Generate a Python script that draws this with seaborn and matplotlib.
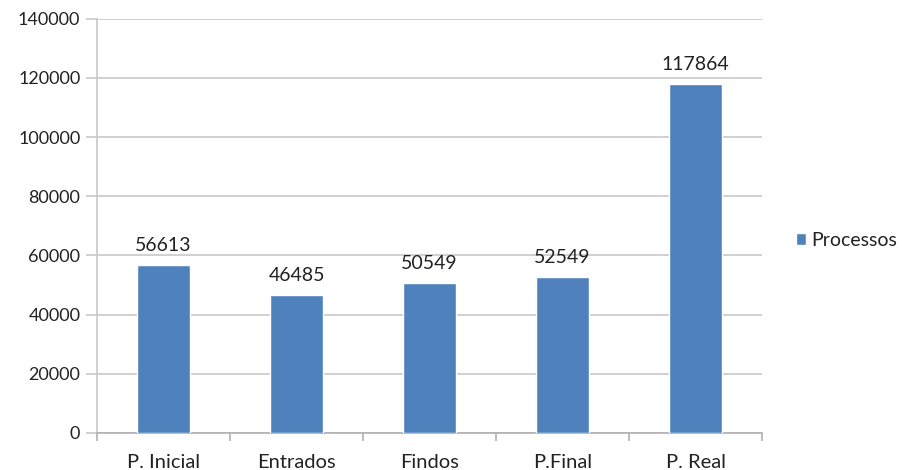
import matplotlib.pyplot as plt
import matplotlib.ticker as mticker
import pandas as pd
import seaborn as sns

# chart data
categories = ['P. Inicial', 'Entrados', 'Findos', 'P.Final', 'P. Real']
processos = [56613, 46485, 50549, 52549, 117864]
y_ticks = [0, 20000, 40000, 60000, 80000, 100000, 120000, 140000]

df = pd.DataFrame({'Categoria': categories, 'Valor': processos, 'Serie': 'Processos'})

sns.set_style('white')
plt.rcParams['font.family'] = ['Lato', 'DejaVu Sans']

fig = plt.figure(figsize=(9.02, 4.70), dpi=100)
ax = fig.add_axes([0.1075, 0.079, 0.7375, 0.881])

sns.barplot(data=df, x='Categoria', y='Valor', hue='Serie', palette=['#4f81bd'],
            width=0.4, saturation=1, ax=ax, zorder=3)

# value labels above the bars
for container in ax.containers:
    ax.bar_label(container, fmt='%d', padding=8, fontsize=14, color='#222222')

ax.set_xlim(-0.5, len(categories) - 0.5)
ax.set_ylim(0, 140000)
ax.set_yticks(y_ticks)
ax.yaxis.set_major_formatter(mticker.FuncFormatter(lambda v, p: f'{int(v)}'))
ax.grid(axis='y', color='#c8c8c8', linewidth=1.2, zorder=0)
ax.set_xlabel('')
ax.set_ylabel('')

# tick marks at the category boundaries
ax.set_xticks([i + 0.5 for i in range(-1, len(categories))], minor=True)
ax.tick_params(axis='x', which='major', length=0, pad=15, labelsize=14.5, labelcolor='#222222')
ax.tick_params(axis='x', which='minor', length=6, color='#b0b0b0', width=1.2, direction='out', bottom=True)
ax.tick_params(axis='y', length=8, color='#c8c8c8', width=1.2, direction='out', left=True,
               pad=4, labelsize=13, labelcolor='#222222')

for side in ['top', 'right']:
    ax.spines[side].set_visible(False)
ax.spines['left'].set_color('#c8c8c8')
ax.spines['left'].set_linewidth(1.2)
ax.spines['bottom'].set_color('#b0b0b0')
ax.spines['bottom'].set_linewidth(1.2)

leg = ax.legend(loc='center left', bbox_to_anchor=(1.03, 0.465), frameon=False,
                fontsize=14, handlelength=0.55, handleheight=0.55, handletextpad=0.25,
                borderaxespad=0.3)
for t in leg.get_texts():
    t.set_color('#222222')

fig.savefig('out.png', dpi=100)
